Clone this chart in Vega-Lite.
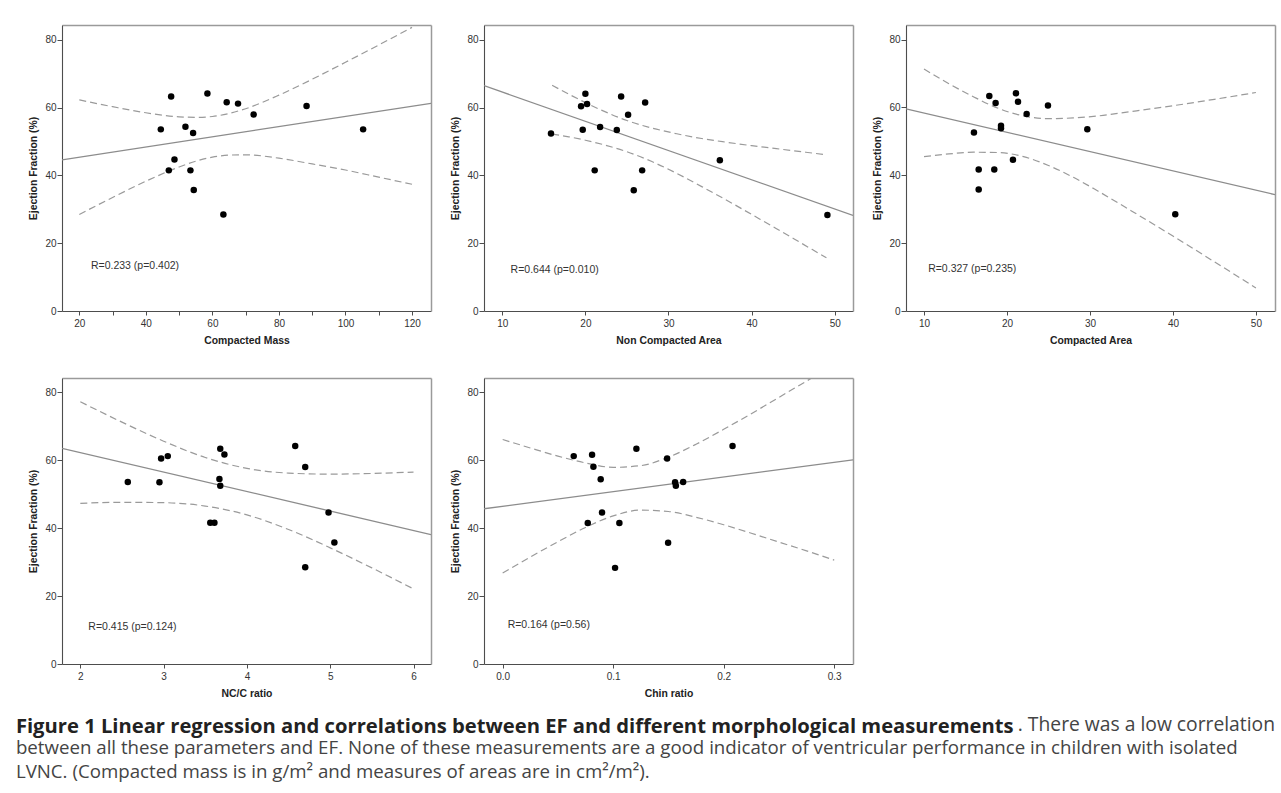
{
  "$schema": "https://vega.github.io/schema/vega-lite/v6.json",
  "padding": {"left": 15, "top": 25, "right": 5, "bottom": 5},
  "datasets": {
    "p1": [
      {"k": "pt", "x": 44.5, "ef": 53.6}, {"k": "pt", "x": 47.6, "ef": 63.3}, {"k": "pt", "x": 46.9, "ef": 41.5},
      {"k": "pt", "x": 48.6, "ef": 44.7}, {"k": "pt", "x": 51.9, "ef": 54.4}, {"k": "pt", "x": 54.2, "ef": 52.5},
      {"k": "pt", "x": 53.4, "ef": 41.5}, {"k": "pt", "x": 54.4, "ef": 35.7}, {"k": "pt", "x": 58.5, "ef": 64.2},
      {"k": "pt", "x": 63.3, "ef": 28.5}, {"k": "pt", "x": 64.3, "ef": 61.6}, {"k": "pt", "x": 67.7, "ef": 61.2},
      {"k": "pt", "x": 72.4, "ef": 58.0}, {"k": "pt", "x": 88.3, "ef": 60.5}, {"k": "pt", "x": 105.3, "ef": 53.6},
      {"k": "fit", "x": 14.8, "ef": 44.6}, {"k": "fit", "x": 125.7, "ef": 61.3},
      {"k": "up", "x": 20, "ef": 62.3}, {"k": "up", "x": 30, "ef": 60.3}, {"k": "up", "x": 40, "ef": 58.5},
      {"k": "up", "x": 50, "ef": 57.3}, {"k": "up", "x": 55, "ef": 57.15}, {"k": "up", "x": 60, "ef": 57.4},
      {"k": "up", "x": 65, "ef": 58.3}, {"k": "up", "x": 70, "ef": 59.7}, {"k": "up", "x": 80, "ef": 63.7},
      {"k": "up", "x": 90, "ef": 68.4}, {"k": "up", "x": 100, "ef": 73.4}, {"k": "up", "x": 110, "ef": 78.5},
      {"k": "up", "x": 120, "ef": 83.7},
      {"k": "lo", "x": 20, "ef": 28.5}, {"k": "lo", "x": 30, "ef": 33.5}, {"k": "lo", "x": 40, "ef": 38.3},
      {"k": "lo", "x": 50, "ef": 42.5}, {"k": "lo", "x": 55, "ef": 44.2}, {"k": "lo", "x": 60, "ef": 45.4},
      {"k": "lo", "x": 65, "ef": 46.0}, {"k": "lo", "x": 70, "ef": 46.1}, {"k": "lo", "x": 80, "ef": 45.1},
      {"k": "lo", "x": 90, "ef": 43.4}, {"k": "lo", "x": 100, "ef": 41.6}, {"k": "lo", "x": 110, "ef": 39.5},
      {"k": "lo", "x": 120, "ef": 37.4}
    ],
    "p2": [
      {"k": "pt", "x": 15.86, "ef": 52.4}, {"k": "pt", "x": 19.48, "ef": 60.4}, {"k": "pt", "x": 20.0, "ef": 64.1},
      {"k": "pt", "x": 20.2, "ef": 61.1}, {"k": "pt", "x": 19.68, "ef": 53.5}, {"k": "pt", "x": 21.12, "ef": 41.5},
      {"k": "pt", "x": 21.77, "ef": 54.3}, {"k": "pt", "x": 23.78, "ef": 53.4}, {"k": "pt", "x": 24.3, "ef": 63.3},
      {"k": "pt", "x": 25.14, "ef": 57.9}, {"k": "pt", "x": 25.82, "ef": 35.6}, {"k": "pt", "x": 26.83, "ef": 41.5},
      {"k": "pt", "x": 27.19, "ef": 61.5}, {"k": "pt", "x": 36.18, "ef": 44.5}, {"k": "pt", "x": 49.12, "ef": 28.3},
      {"k": "fit", "x": 7.8, "ef": 66.5}, {"k": "fit", "x": 52.2, "ef": 28.2},
      {"k": "up", "x": 16, "ef": 66.6}, {"k": "up", "x": 18, "ef": 64.0}, {"k": "up", "x": 20, "ef": 61.5},
      {"k": "up", "x": 22, "ef": 59.2}, {"k": "up", "x": 25, "ef": 56.2}, {"k": "up", "x": 28, "ef": 54.0},
      {"k": "up", "x": 31, "ef": 52.3}, {"k": "up", "x": 34, "ef": 50.9}, {"k": "up", "x": 37, "ef": 49.8},
      {"k": "up", "x": 40, "ef": 48.8}, {"k": "up", "x": 43, "ef": 47.9}, {"k": "up", "x": 46, "ef": 47.0},
      {"k": "up", "x": 49, "ef": 46.1},
      {"k": "lo", "x": 16, "ef": 52.2}, {"k": "lo", "x": 18, "ef": 51.4}, {"k": "lo", "x": 20, "ef": 50.4},
      {"k": "lo", "x": 22, "ef": 49.2}, {"k": "lo", "x": 25, "ef": 47.0}, {"k": "lo", "x": 28, "ef": 44.1},
      {"k": "lo", "x": 31, "ef": 40.6}, {"k": "lo", "x": 34, "ef": 36.7}, {"k": "lo", "x": 37, "ef": 32.7},
      {"k": "lo", "x": 40, "ef": 28.5}, {"k": "lo", "x": 43, "ef": 24.3}, {"k": "lo", "x": 46, "ef": 20.0},
      {"k": "lo", "x": 49, "ef": 15.7}
    ],
    "p3": [
      {"k": "pt", "x": 16.02, "ef": 52.6}, {"k": "pt", "x": 17.87, "ef": 63.4}, {"k": "pt", "x": 18.63, "ef": 61.3},
      {"k": "pt", "x": 16.59, "ef": 41.7}, {"k": "pt", "x": 16.59, "ef": 35.8}, {"k": "pt", "x": 18.47, "ef": 41.7},
      {"k": "pt", "x": 19.28, "ef": 54.6}, {"k": "pt", "x": 19.28, "ef": 53.9}, {"k": "pt", "x": 20.72, "ef": 44.6},
      {"k": "pt", "x": 21.08, "ef": 64.2}, {"k": "pt", "x": 21.33, "ef": 61.7}, {"k": "pt", "x": 22.37, "ef": 58.1},
      {"k": "pt", "x": 24.94, "ef": 60.6}, {"k": "pt", "x": 29.68, "ef": 53.6}, {"k": "pt", "x": 40.28, "ef": 28.5},
      {"k": "fit", "x": 7.83, "ef": 59.6}, {"k": "fit", "x": 52.3, "ef": 34.3},
      {"k": "up", "x": 10, "ef": 71.3}, {"k": "up", "x": 13, "ef": 67.0}, {"k": "up", "x": 16, "ef": 63.1},
      {"k": "up", "x": 19, "ef": 59.7}, {"k": "up", "x": 22, "ef": 57.5}, {"k": "up", "x": 25, "ef": 56.7},
      {"k": "up", "x": 28, "ef": 56.9}, {"k": "up", "x": 31, "ef": 57.5}, {"k": "up", "x": 35, "ef": 58.8},
      {"k": "up", "x": 40, "ef": 60.5}, {"k": "up", "x": 45, "ef": 62.4}, {"k": "up", "x": 50, "ef": 64.4},
      {"k": "lo", "x": 10, "ef": 45.5}, {"k": "lo", "x": 13, "ef": 46.3}, {"k": "lo", "x": 16, "ef": 46.8},
      {"k": "lo", "x": 19, "ef": 46.7}, {"k": "lo", "x": 22, "ef": 45.5}, {"k": "lo", "x": 25, "ef": 42.9},
      {"k": "lo", "x": 28, "ef": 39.4}, {"k": "lo", "x": 31, "ef": 35.3}, {"k": "lo", "x": 35, "ef": 29.5},
      {"k": "lo", "x": 40, "ef": 22.1}, {"k": "lo", "x": 45, "ef": 14.5}, {"k": "lo", "x": 50, "ef": 6.8}
    ],
    "p4": [
      {"k": "pt", "x": 2.57, "ef": 53.6}, {"k": "pt", "x": 2.95, "ef": 53.5}, {"k": "pt", "x": 2.97, "ef": 60.5},
      {"k": "pt", "x": 3.05, "ef": 61.2}, {"k": "pt", "x": 3.68, "ef": 63.4}, {"k": "pt", "x": 3.73, "ef": 61.7},
      {"k": "pt", "x": 3.67, "ef": 54.5}, {"k": "pt", "x": 3.68, "ef": 52.5}, {"k": "pt", "x": 3.56, "ef": 41.6},
      {"k": "pt", "x": 3.61, "ef": 41.6}, {"k": "pt", "x": 4.58, "ef": 64.2}, {"k": "pt", "x": 4.70, "ef": 58.0},
      {"k": "pt", "x": 4.98, "ef": 44.6}, {"k": "pt", "x": 5.05, "ef": 35.8}, {"k": "pt", "x": 4.70, "ef": 28.5},
      {"k": "fit", "x": 1.78, "ef": 63.5}, {"k": "fit", "x": 6.21, "ef": 38.1},
      {"k": "up", "x": 2, "ef": 77.2}, {"k": "up", "x": 2.5, "ef": 71.2}, {"k": "up", "x": 3, "ef": 65.6},
      {"k": "up", "x": 3.5, "ef": 60.8}, {"k": "up", "x": 4, "ef": 57.6}, {"k": "up", "x": 4.5, "ef": 56.2},
      {"k": "up", "x": 5, "ef": 55.9}, {"k": "up", "x": 5.5, "ef": 56.1}, {"k": "up", "x": 6, "ef": 56.5},
      {"k": "lo", "x": 2, "ef": 47.3}, {"k": "lo", "x": 2.5, "ef": 47.6}, {"k": "lo", "x": 3, "ef": 47.5},
      {"k": "lo", "x": 3.5, "ef": 46.5}, {"k": "lo", "x": 4, "ef": 43.9}, {"k": "lo", "x": 4.5, "ef": 39.6},
      {"k": "lo", "x": 5, "ef": 34.2}, {"k": "lo", "x": 5.5, "ef": 28.3}, {"k": "lo", "x": 6, "ef": 22.1}
    ],
    "p5": [
      {"k": "pt", "x": 0.0643, "ef": 61.2}, {"k": "pt", "x": 0.0809, "ef": 61.6}, {"k": "pt", "x": 0.0821, "ef": 58.1},
      {"k": "pt", "x": 0.0887, "ef": 54.4}, {"k": "pt", "x": 0.0899, "ef": 44.6}, {"k": "pt", "x": 0.077, "ef": 41.5},
      {"k": "pt", "x": 0.1056, "ef": 41.5}, {"k": "pt", "x": 0.1017, "ef": 28.3}, {"k": "pt", "x": 0.121, "ef": 63.4},
      {"k": "pt", "x": 0.1488, "ef": 60.5}, {"k": "pt", "x": 0.1497, "ef": 35.7}, {"k": "pt", "x": 0.156, "ef": 53.5},
      {"k": "pt", "x": 0.1567, "ef": 52.5}, {"k": "pt", "x": 0.1633, "ef": 53.6}, {"k": "pt", "x": 0.208, "ef": 64.2},
      {"k": "fit", "x": -0.0169, "ef": 45.7}, {"k": "fit", "x": 0.317, "ef": 60.1},
      {"k": "up", "x": 0, "ef": 66.1}, {"k": "up", "x": 0.025, "ef": 63.6}, {"k": "up", "x": 0.05, "ef": 61.2},
      {"k": "up", "x": 0.075, "ef": 59.2}, {"k": "up", "x": 0.1, "ef": 57.9}, {"k": "up", "x": 0.125, "ef": 58.4},
      {"k": "up", "x": 0.15, "ef": 60.9}, {"k": "up", "x": 0.175, "ef": 64.7}, {"k": "up", "x": 0.2, "ef": 69.1},
      {"k": "up", "x": 0.225, "ef": 73.7}, {"k": "up", "x": 0.25, "ef": 78.5}, {"k": "up", "x": 0.275, "ef": 83.3},
      {"k": "up", "x": 0.3, "ef": 88.1},
      {"k": "lo", "x": 0, "ef": 26.8}, {"k": "lo", "x": 0.025, "ef": 31.5}, {"k": "lo", "x": 0.05, "ef": 36.0},
      {"k": "lo", "x": 0.075, "ef": 40.2}, {"k": "lo", "x": 0.1, "ef": 43.6}, {"k": "lo", "x": 0.125, "ef": 45.3},
      {"k": "lo", "x": 0.15, "ef": 44.9}, {"k": "lo", "x": 0.175, "ef": 43.2}, {"k": "lo", "x": 0.2, "ef": 41.0},
      {"k": "lo", "x": 0.225, "ef": 38.5}, {"k": "lo", "x": 0.25, "ef": 35.9}, {"k": "lo", "x": 0.275, "ef": 33.3},
      {"k": "lo", "x": 0.3, "ef": 30.6}
    ]
  },
  "title": {
    "text": "Figure 1 Linear regression and correlations between EF and different morphological measurements",
    "subtitle": [
      "between all these parameters and EF. None of these measurements are a good indicator of ventricular performance in children with isolated",
      "LVNC. (Compacted mass is in g/m² and measures of areas are in cm²/m²)."
    ],
    "orient": "bottom", "anchor": "start", "offset": 0, "dx": -13, "dy": -19,
    "font": "Open Sans", "fontSize": 20.2, "fontWeight": "bold", "color": "#222222",
    "subtitleFont": "Open Sans", "subtitleFontSize": 18.7, "subtitleFontWeight": "normal", "subtitleColor": "#444444",
    "subtitleLineHeight": 24, "subtitlePadding": 2
  },
  "vconcat": [
    {
      "title": {
        "text": ". There was a low correlation",
        "orient": "bottom", "anchor": "end", "offset": 18,
        "font": "Open Sans", "fontSize": 19.3, "fontWeight": "normal", "color": "#444444"
      },
      "spacing": 32,
      "vconcat": [
        {
          "hconcat": [
            {
              "width": 369, "height": 286,
              "data": {"name": "p1"},
              "layer": [
                {
                  "transform": [{"filter": "datum.k == 'up' || datum.k == 'lo'"}],
                  "mark": {"type": "line", "interpolate": "monotone", "strokeDash": [7, 4], "color": "#9a9a9a", "strokeWidth": 1.2, "clip": true},
                  "encoding": {
                    "x": {"field": "x", "type": "quantitative", "scale": {"domain": [14.8, 125.7], "nice": false, "zero": false},
                          "axis": {"orient": "bottom", "values": [20, 30, 40, 50, 60, 70, 80, 90, 100, 110, 120], "labelExpr": "datum.value % 20 == 0 ? datum.label : ''", "title": "Compacted Mass"}},
                    "y": {"field": "ef", "type": "quantitative", "scale": {"domain": [0, 84.4], "nice": false},
                          "axis": {"orient": "left", "values": [0, 20, 40, 60, 80], "title": "Ejection Fraction (%)"}},
                    "detail": {"field": "k"}
                  }
                },
                {
                  "transform": [{"filter": "datum.k == 'fit'"}],
                  "mark": {"type": "line", "color": "#8c8c8c", "strokeWidth": 1.3, "clip": true},
                  "encoding": {
                    "x": {"field": "x", "type": "quantitative", "axis": {"orient": "top", "domain": true, "domainColor": "#9a9a9a", "domainWidth": 1.5, "ticks": false, "labels": false, "title": null}},
                    "y": {"field": "ef", "type": "quantitative", "axis": {"orient": "right", "domain": true, "domainColor": "#9a9a9a", "domainWidth": 1.5, "ticks": false, "labels": false, "title": null}}
                  }
                },
                {
                  "transform": [{"filter": "datum.k == 'pt'"}],
                  "mark": {"type": "circle", "size": 42, "color": "#000000", "opacity": 1},
                  "encoding": {
                    "x": {"field": "x", "type": "quantitative", "axis": null},
                    "y": {"field": "ef", "type": "quantitative", "axis": null}
                  }
                },
                {
                  "data": {"values": [{"label": "R=0.233 (p=0.402)"}]},
                  "mark": {"type": "text", "align": "left", "baseline": "middle", "font": "Liberation Sans", "fontSize": 10.5, "color": "#333333"},
                  "encoding": {
                    "x": {"datum": 23.5, "type": "quantitative", "axis": null},
                    "y": {"datum": 13.2, "type": "quantitative", "axis": null},
                    "text": {"field": "label"}
                  }
                }
              ]
            },
            {
              "width": 369, "height": 286,
              "data": {"name": "p2"},
              "layer": [
                {
                  "transform": [{"filter": "datum.k == 'up' || datum.k == 'lo'"}],
                  "mark": {"type": "line", "interpolate": "monotone", "strokeDash": [7, 4], "color": "#9a9a9a", "strokeWidth": 1.2, "clip": true},
                  "encoding": {
                    "x": {"field": "x", "type": "quantitative", "scale": {"domain": [7.8, 52.2], "nice": false, "zero": false},
                          "axis": {"orient": "bottom", "values": [10, 20, 30, 40, 50], "title": "Non Compacted Area"}},
                    "y": {"field": "ef", "type": "quantitative", "scale": {"domain": [0, 84.4], "nice": false},
                          "axis": {"orient": "left", "values": [0, 20, 40, 60, 80], "title": "Ejection Fraction (%)"}},
                    "detail": {"field": "k"}
                  }
                },
                {
                  "transform": [{"filter": "datum.k == 'fit'"}],
                  "mark": {"type": "line", "color": "#8c8c8c", "strokeWidth": 1.3, "clip": true},
                  "encoding": {
                    "x": {"field": "x", "type": "quantitative", "axis": {"orient": "top", "domain": true, "domainColor": "#9a9a9a", "domainWidth": 1.5, "ticks": false, "labels": false, "title": null}},
                    "y": {"field": "ef", "type": "quantitative", "axis": {"orient": "right", "domain": true, "domainColor": "#9a9a9a", "domainWidth": 1.5, "ticks": false, "labels": false, "title": null}}
                  }
                },
                {
                  "transform": [{"filter": "datum.k == 'pt'"}],
                  "mark": {"type": "circle", "size": 42, "color": "#000000", "opacity": 1},
                  "encoding": {
                    "x": {"field": "x", "type": "quantitative", "axis": null},
                    "y": {"field": "ef", "type": "quantitative", "axis": null}
                  }
                },
                {
                  "data": {"values": [{"label": "R=0.644 (p=0.010)"}]},
                  "mark": {"type": "text", "align": "left", "baseline": "middle", "font": "Liberation Sans", "fontSize": 10.5, "color": "#333333"},
                  "encoding": {
                    "x": {"datum": 11.0, "type": "quantitative", "axis": null},
                    "y": {"datum": 12.1, "type": "quantitative", "axis": null},
                    "text": {"field": "label"}
                  }
                }
              ]
            },
            {
              "width": 369, "height": 286,
              "data": {"name": "p3"},
              "layer": [
                {
                  "transform": [{"filter": "datum.k == 'up' || datum.k == 'lo'"}],
                  "mark": {"type": "line", "interpolate": "monotone", "strokeDash": [7, 4], "color": "#9a9a9a", "strokeWidth": 1.2, "clip": true},
                  "encoding": {
                    "x": {"field": "x", "type": "quantitative", "scale": {"domain": [7.83, 52.3], "nice": false, "zero": false},
                          "axis": {"orient": "bottom", "values": [10, 20, 30, 40, 50], "title": "Compacted Area"}},
                    "y": {"field": "ef", "type": "quantitative", "scale": {"domain": [0, 84.3], "nice": false},
                          "axis": {"orient": "left", "values": [0, 20, 40, 60, 80], "title": "Ejection Fraction (%)"}},
                    "detail": {"field": "k"}
                  }
                },
                {
                  "transform": [{"filter": "datum.k == 'fit'"}],
                  "mark": {"type": "line", "color": "#8c8c8c", "strokeWidth": 1.3, "clip": true},
                  "encoding": {
                    "x": {"field": "x", "type": "quantitative", "axis": {"orient": "top", "domain": true, "domainColor": "#9a9a9a", "domainWidth": 1.5, "ticks": false, "labels": false, "title": null}},
                    "y": {"field": "ef", "type": "quantitative", "axis": {"orient": "right", "domain": true, "domainColor": "#9a9a9a", "domainWidth": 1.5, "ticks": false, "labels": false, "title": null}}
                  }
                },
                {
                  "transform": [{"filter": "datum.k == 'pt'"}],
                  "mark": {"type": "circle", "size": 42, "color": "#000000", "opacity": 1},
                  "encoding": {
                    "x": {"field": "x", "type": "quantitative", "axis": null},
                    "y": {"field": "ef", "type": "quantitative", "axis": null}
                  }
                },
                {
                  "data": {"values": [{"label": "R=0.327 (p=0.235)"}]},
                  "mark": {"type": "text", "align": "left", "baseline": "middle", "font": "Liberation Sans", "fontSize": 10.5, "color": "#333333"},
                  "encoding": {
                    "x": {"datum": 10.5, "type": "quantitative", "axis": null},
                    "y": {"datum": 12.3, "type": "quantitative", "axis": null},
                    "text": {"field": "label"}
                  }
                }
              ]
            }
          ],
          "spacing": 53,
          "bounds": "flush"
        },
        {
          "hconcat": [
            {
              "width": 369, "height": 286,
              "data": {"name": "p4"},
              "layer": [
                {
                  "transform": [{"filter": "datum.k == 'up' || datum.k == 'lo'"}],
                  "mark": {"type": "line", "interpolate": "monotone", "strokeDash": [7, 4], "color": "#9a9a9a", "strokeWidth": 1.2, "clip": true},
                  "encoding": {
                    "x": {"field": "x", "type": "quantitative", "scale": {"domain": [1.78, 6.21], "nice": false, "zero": false},
                          "axis": {"orient": "bottom", "values": [2, 3, 4, 5, 6], "title": "NC/C ratio"}},
                    "y": {"field": "ef", "type": "quantitative", "scale": {"domain": [0, 84.2], "nice": false},
                          "axis": {"orient": "left", "values": [0, 20, 40, 60, 80], "title": "Ejection Fraction (%)"}},
                    "detail": {"field": "k"}
                  }
                },
                {
                  "transform": [{"filter": "datum.k == 'fit'"}],
                  "mark": {"type": "line", "color": "#8c8c8c", "strokeWidth": 1.3, "clip": true},
                  "encoding": {
                    "x": {"field": "x", "type": "quantitative", "axis": {"orient": "top", "domain": true, "domainColor": "#9a9a9a", "domainWidth": 1.5, "ticks": false, "labels": false, "title": null}},
                    "y": {"field": "ef", "type": "quantitative", "axis": {"orient": "right", "domain": true, "domainColor": "#9a9a9a", "domainWidth": 1.5, "ticks": false, "labels": false, "title": null}}
                  }
                },
                {
                  "transform": [{"filter": "datum.k == 'pt'"}],
                  "mark": {"type": "circle", "size": 42, "color": "#000000", "opacity": 1},
                  "encoding": {
                    "x": {"field": "x", "type": "quantitative", "axis": null},
                    "y": {"field": "ef", "type": "quantitative", "axis": null}
                  }
                },
                {
                  "data": {"values": [{"label": "R=0.415 (p=0.124)"}]},
                  "mark": {"type": "text", "align": "left", "baseline": "middle", "font": "Liberation Sans", "fontSize": 10.5, "color": "#333333"},
                  "encoding": {
                    "x": {"datum": 2.096, "type": "quantitative", "axis": null},
                    "y": {"datum": 11.0, "type": "quantitative", "axis": null},
                    "text": {"field": "label"}
                  }
                }
              ]
            },
            {
              "width": 369, "height": 286,
              "data": {"name": "p5"},
              "layer": [
                {
                  "transform": [{"filter": "datum.k == 'up' || datum.k == 'lo'"}],
                  "mark": {"type": "line", "interpolate": "monotone", "strokeDash": [7, 4], "color": "#9a9a9a", "strokeWidth": 1.2, "clip": true},
                  "encoding": {
                    "x": {"field": "x", "type": "quantitative", "scale": {"domain": [-0.0169, 0.317], "nice": false, "zero": false},
                          "axis": {"orient": "bottom", "values": [0, 0.1, 0.2, 0.3], "format": ".1f", "title": "Chin ratio"}},
                    "y": {"field": "ef", "type": "quantitative", "scale": {"domain": [0, 84.2], "nice": false},
                          "axis": {"orient": "left", "values": [0, 20, 40, 60, 80], "title": "Ejection Fraction (%)"}},
                    "detail": {"field": "k"}
                  }
                },
                {
                  "transform": [{"filter": "datum.k == 'fit'"}],
                  "mark": {"type": "line", "color": "#8c8c8c", "strokeWidth": 1.3, "clip": true},
                  "encoding": {
                    "x": {"field": "x", "type": "quantitative", "axis": {"orient": "top", "domain": true, "domainColor": "#9a9a9a", "domainWidth": 1.5, "ticks": false, "labels": false, "title": null}},
                    "y": {"field": "ef", "type": "quantitative", "axis": {"orient": "right", "domain": true, "domainColor": "#9a9a9a", "domainWidth": 1.5, "ticks": false, "labels": false, "title": null}}
                  }
                },
                {
                  "transform": [{"filter": "datum.k == 'pt'"}],
                  "mark": {"type": "circle", "size": 42, "color": "#000000", "opacity": 1},
                  "encoding": {
                    "x": {"field": "x", "type": "quantitative", "axis": null},
                    "y": {"field": "ef", "type": "quantitative", "axis": null}
                  }
                },
                {
                  "data": {"values": [{"label": "R=0.164 (p=0.56)"}]},
                  "mark": {"type": "text", "align": "left", "baseline": "middle", "font": "Liberation Sans", "fontSize": 10.5, "color": "#333333"},
                  "encoding": {
                    "x": {"datum": 0.0045, "type": "quantitative", "axis": null},
                    "y": {"datum": 11.5, "type": "quantitative", "axis": null},
                    "text": {"field": "label"}
                  }
                }
              ]
            }
          ],
          "spacing": 53,
          "bounds": "flush"
        }
      ]
    }
  ],
  "config": {
    "view": {"stroke": null},
    "font": "Liberation Sans",
    "axis": {
      "grid": false, "domainColor": "#4d4d4d", "domainWidth": 1.1, "tickColor": "#4d4d4d", "tickWidth": 1,
      "labelFont": "Liberation Sans", "labelFontSize": 10, "labelColor": "#333333",
      "titleFont": "Liberation Sans", "titleFontSize": 10.4, "titleFontWeight": "bold", "titleColor": "#222222"
    },
    "axisX": {"tickSize": 4, "labelPadding": 3, "titlePadding": 7},
    "axisY": {"tickSize": 5, "labelPadding": 1, "titlePadding": 6}
  }
}
